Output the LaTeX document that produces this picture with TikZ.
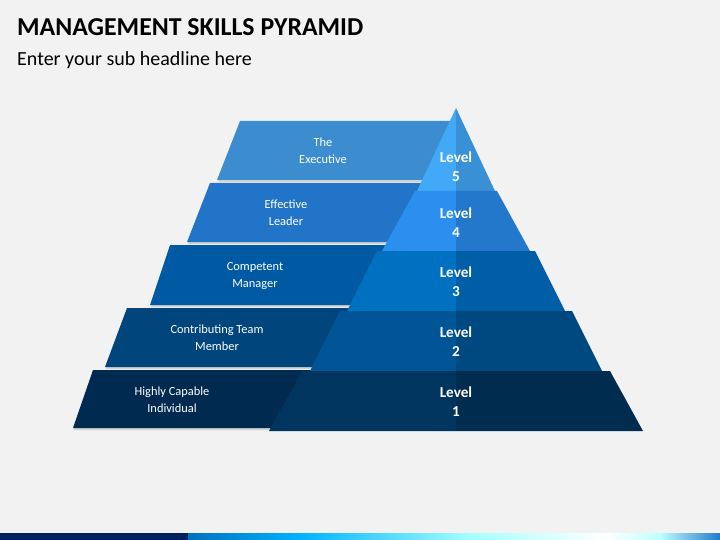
\documentclass[tikz,border=0pt]{standalone}
\usepackage{fontspec}
\setmainfont{Carlito}
\definecolor{bg}{HTML}{F2F2F2}
\definecolor{navy}{HTML}{002060}
% banner colours
\definecolor{bannerFive}{HTML}{3B8DD0}
\definecolor{bannerFour}{HTML}{2174C8}
\definecolor{bannerThree}{HTML}{005AA3}
\definecolor{bannerTwo}{HTML}{00457C}
\definecolor{bannerOne}{HTML}{002A4F}
% pyramid colours, left and right half
\definecolor{lvlFiveL}{HTML}{41A9F7}
\definecolor{lvlFiveR}{HTML}{3A90D4}
\definecolor{lvlFourL}{HTML}{2B8FF0}
\definecolor{lvlFourR}{HTML}{2378CC}
\definecolor{lvlThreeL}{HTML}{0070C0}
\definecolor{lvlThreeR}{HTML}{005EA6}
\definecolor{lvlTwoL}{HTML}{005596}
\definecolor{lvlTwoR}{HTML}{004880}
\definecolor{lvlOneL}{HTML}{00355F}
\definecolor{lvlOneR}{HTML}{002C50}
\begin{document}
\begin{tikzpicture}[x=1pt,y=-1pt,
    banner/.style={text=white,align=center,inner sep=0pt,font=\fontsize{12.4}{17}\selectfont},
    level/.style={text=white,align=center,inner sep=0pt,font=\fontsize{15.2}{19}\selectfont\bfseries}]
  \useasboundingbox (0,0) rectangle (720,540);
  \fill[bg] (0,0) rectangle (720,540);

  \node[anchor=base west,inner sep=0pt,font=\fontsize{25.8}{30}\selectfont\bfseries] (title) at (17,36) {MANAGEMENT SKILLS PYRAMID};
  \node[anchor=base west,inner sep=0pt,font=\fontsize{20}{24}\selectfont] (sub) at (17,66) {Enter your sub headline here};

  % banners behind the pyramid
  \foreach \yt/\yb/\xt/\xb/\col in {121/180/240/217/bannerFive, 183/242/210/187/bannerFour,
      245/305/170/150/bannerThree, 308/367/127/105/bannerTwo, 370/428/93/73/bannerOne} {
    \fill[black!30,opacity=0.5] (\xt+1,\yt+2) -- (456,\yt+2) -- (456,\yb+2) -- (\xb+1,\yb+2) -- cycle;
    \fill[\col] (\xt,\yt) -- (456,\yt) -- (456,\yb) -- (\xb,\yb) -- cycle;
  }

  % pyramid layers
  \foreach \yt/\yb/\wt/\wb/\cl/\cr in {108/191/0/39/lvlFiveL/lvlFiveR, 191/251/41/74/lvlFourL/lvlFourR,
      251/311/79/109/lvlThreeL/lvlThreeR, 311/371/116/146/lvlTwoL/lvlTwoR, 371/431/154/187/lvlOneL/lvlOneR} {
    \fill[\cl] (456-\wt,\yt) -- (456,\yt) -- (456,\yb) -- (456-\wb,\yb) -- cycle;
    \fill[\cr] (456,\yt) -- (456+\wt,\yt) -- (456+\wb,\yb) -- (456,\yb) -- cycle;
  }

  \node[banner] (exec) at (323,151) {The\\Executive};
  \node[banner] (leader) at (286,213) {Effective\\Leader};
  \node[banner] (manager) at (255,276) {Competent\\Manager};
  \node[banner] (member) at (217,338) {Contributing Team\\Member};
  \node[banner] (indiv) at (172,400) {Highly Capable\\Individual};

  \node[level] (L5) at (456,167) {Level\\5};
  \node[level] (L4) at (456,223) {Level\\4};
  \node[level] (L3) at (456,282) {Level\\3};
  \node[level] (L2) at (456,342) {Level\\2};
  \node[level] (L1) at (456,402) {Level\\1};

  % bottom strip
  \fill[navy] (0,533) rectangle (188,540);
  \shade[left color=lvlThreeL,right color=cyan!70!blue] (188,533) rectangle (300,540);
  \shade[left color=cyan!70!blue,right color=cyan!35] (300,533) rectangle (470,540);
  \shade[left color=cyan!35,right color=white] (470,533) rectangle (605,540);
  \shade[left color=white,right color=cyan!25] (605,533) rectangle (660,540);
  \shade[left color=cyan!25,right color=lvlFourR] (660,533) rectangle (720,540);
\end{tikzpicture}
\end{document}
